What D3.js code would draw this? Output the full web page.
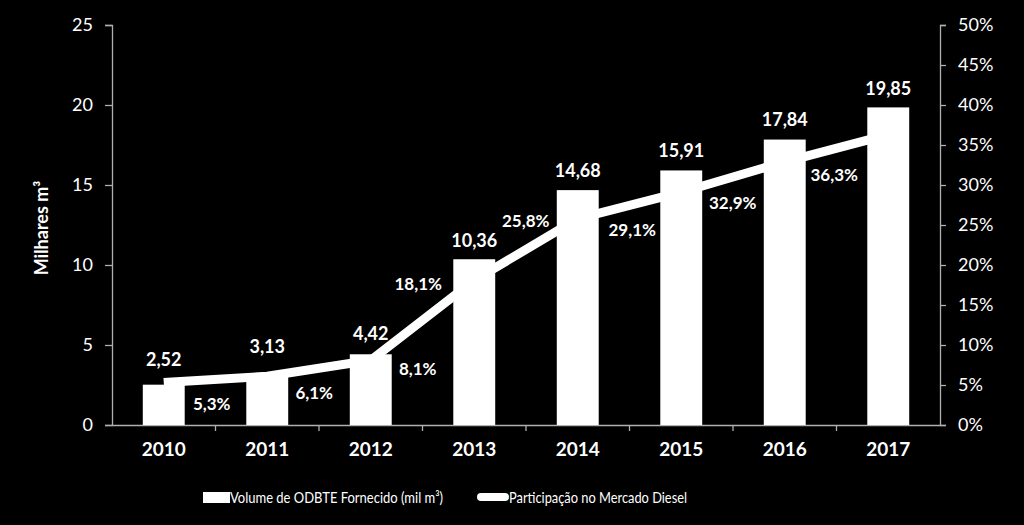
<!DOCTYPE html>
<html>
<head>
<meta charset="utf-8">
<script src="https://cdn.jsdelivr.net/npm/d3@7"></script>
<style>
  html, body { margin: 0; padding: 0; background: #000; }
  svg { display: block; }
  text { font-family: Lato, "Open Sans", sans-serif; fill: #fff; }
</style>
</head>
<body>
<svg id="chart" width="1024" height="525"></svg>
<script>
// ---- Data ----
const years = ["2010", "2011", "2012", "2013", "2014", "2015", "2016", "2017"];
const volume = [2.52, 3.13, 4.42, 10.36, 14.68, 15.91, 17.84, 19.85];
const share = [0.053, 0.061, 0.081, 0.181, 0.258, 0.291, 0.329, 0.363];
const volumeLabels = ["2,52", "3,13", "4,42", "10,36", "14,68", "15,91", "17,84", "19,85"];
const shareLabels = ["5,3%", "6,1%", "8,1%", "18,1%", "25,8%", "29,1%", "32,9%", "36,3%"];
const leftTicks = [0, 5, 10, 15, 20, 25];
const rightTicks = [0, 0.05, 0.10, 0.15, 0.20, 0.25, 0.30, 0.35, 0.40, 0.45, 0.50];
const yTitle = "Milhares m³";
const legendBar = "Volume de ODBTE Fornecido (mil m³)";
const legendLine = "Participação no Mercado Diesel";

// ---- Layout ----
const svg = d3.select("#chart");
const plotLeft = 112, plotRight = 940, plotTop = 25, plotBottom = 425;
const axisColor = "#b0b0b0";

const x = d3.scaleBand().domain(years).range([plotLeft, plotRight]).paddingInner(0.595).paddingOuter(0.2975);
const yL = d3.scaleLinear().domain([0, 25]).range([plotBottom, plotTop]);
const yR = d3.scaleLinear().domain([0, 0.5]).range([plotBottom, plotTop]);

// Left axis
const gL = svg.append("g").attr("transform", `translate(${plotLeft},0)`)
  .call(d3.axisLeft(yL).tickValues(leftTicks).tickSize(7).tickPadding(12));
// Right axis
const gR = svg.append("g").attr("transform", `translate(${plotRight},0)`)
  .call(d3.axisRight(yR).tickValues(rightTicks).tickSize(6).tickPadding(12)
    .tickFormat(d => Math.round(d * 100) + "%"));
[gL, gR].forEach(g => {
  g.selectAll("path,line").attr("stroke", axisColor).attr("stroke-width", 1.3);
  g.selectAll("text").attr("fill", "#fff").style("font-size", "18px")
    .style("font-family", "Lato, 'Open Sans', sans-serif");
});

// Bottom axis
const gX = svg.append("g").attr("transform", `translate(0,${plotBottom})`)
  .call(d3.axisBottom(x).tickSize(0).tickPadding(18));
gX.select(".domain").attr("stroke", axisColor).attr("stroke-width", 1.3);
gX.selectAll("text").attr("fill", "#fff").style("font-size", "19px").style("font-weight", "bold")
  .style("font-family", "Lato, 'Open Sans', sans-serif");
// category separators
gX.selectAll("line.sep").data(years.slice(1)).enter().append("line")
  .attr("class", "sep")
  .attr("x1", d => x(d) - x.step() * x.paddingInner() / 2)
  .attr("x2", d => x(d) - x.step() * x.paddingInner() / 2)
  .attr("y1", 0).attr("y2", 6)
  .attr("stroke", axisColor).attr("stroke-width", 1.3);

// Y title
svg.append("text")
  .attr("transform", `translate(48,228) rotate(-90)`)
  .attr("text-anchor", "middle")
  .style("font-size", "18px").style("font-weight", "bold")
  .text(yTitle);

// Line
const cx = d => x(d) + x.bandwidth() / 2;
const line = d3.line().x((d, i) => cx(years[i])).y(d => yR(d));
svg.append("path").datum(share)
  .attr("d", line).attr("fill", "none")
  .attr("stroke", "#fff").attr("stroke-width", 9);

// Bars
svg.append("g").selectAll("rect").data(volume).enter().append("rect")
  .attr("x", (d, i) => x(years[i]))
  .attr("width", x.bandwidth())
  .attr("y", d => yL(d))
  .attr("height", d => plotBottom - yL(d))
  .attr("fill", "#fff");

// Bar value labels (extra lift for first labels so they clear the line)
const valueLift = [25, 28, 21, 19, 19, 20, 20, 19];
svg.append("g").selectAll("text").data(volume).enter().append("text")
  .attr("x", (d, i) => cx(years[i]))
  .attr("y", (d, i) => yL(d) - valueLift[i])
  .attr("dy", "0.35em")
  .attr("text-anchor", "middle")
  .style("font-size", "18px").style("font-weight", "bold")
  .text((d, i) => volumeLabels[i]);

// Share labels (placement offsets relative to each line point)
const shareOffset = [[48, 21], [47, 17], [47, 9], [-56, 4], [-52, 2], [-49, 38], [-52, 41], [-54, 40]];
svg.append("g").selectAll("text").data(share).enter().append("text")
  .attr("x", (d, i) => cx(years[i]) + shareOffset[i][0])
  .attr("y", (d, i) => yR(d) + shareOffset[i][1])
  .attr("dy", "0.35em")
  .attr("text-anchor", "middle")
  .style("font-size", "17px").style("font-weight", "bold")
  .text((d, i) => shareLabels[i]);

// Legend
const lg = svg.append("g");
lg.append("rect").attr("x", 203).attr("y", 492).attr("width", 27).attr("height", 11).attr("fill", "#fff");
lg.append("text").attr("x", 230).attr("y", 498).attr("dy", "0.35em")
  .attr("textLength", 213).attr("lengthAdjust", "spacingAndGlyphs")
  .style("font-size", "15px").text(legendBar);
lg.append("line").attr("x1", 481).attr("x2", 505).attr("y1", 497).attr("y2", 497)
  .attr("stroke", "#fff").attr("stroke-width", 8).attr("stroke-linecap", "round");
lg.append("text").attr("x", 509).attr("y", 498).attr("dy", "0.35em")
  .attr("textLength", 178).attr("lengthAdjust", "spacingAndGlyphs")
  .style("font-size", "15px").text(legendLine);
</script>
</body>
</html>
